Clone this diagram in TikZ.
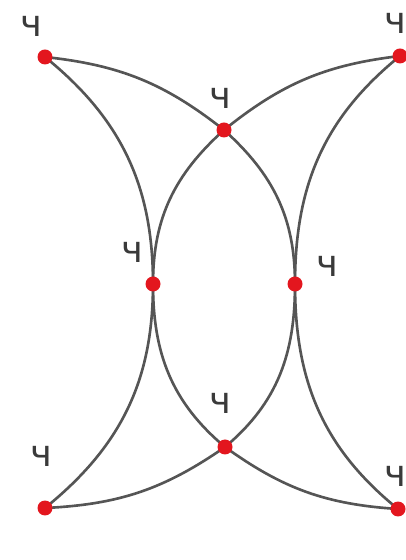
\documentclass[tikz,border=0pt]{standalone}
\usepackage{fontspec}
\setmainfont{DejaVu Sans}
\usetikzlibrary{backgrounds}
\definecolor{dotred}{HTML}{E3161E}
\definecolor{linegray}{HTML}{555555}
\definecolor{labelgray}{HTML}{3A3A3A}
\begin{document}
\begin{tikzpicture}[x=0.02cm,y=0.02cm,
  vtx/.style={circle,fill=dotred,inner sep=0pt,minimum size=0.3cm},
  lbl/.style={text=labelgray,font=\fontsize{21}{21}\selectfont,inner sep=0pt},
  arcline/.style={draw=linegray,line width=1.5pt}]
\useasboundingbox (0,0) rectangle (405,560);
% vertices
\node[vtx] (TL) at (45,503) {};
\node[vtx] (TR) at (400,504) {};
\node[vtx] (TM) at (224,430) {};
\node[vtx] (LM) at (153,276) {};
\node[vtx] (RM) at (295,276) {};
\node[vtx] (BM) at (225,113) {};
\node[vtx] (BL) at (45,52) {};
\node[vtx] (BR) at (398,51) {};
% labels
\node[lbl] (lTL) at (31,534) {ч};
\node[lbl] (lTR) at (395,537) {ч};
\node[lbl] (lTM) at (220,462) {ч};
\node[lbl] (lLM) at (132,308) {ч};
\node[lbl] (lRM) at (327,294) {ч};
\node[lbl] (lBM) at (220,157) {ч};
\node[lbl] (lBL) at (41,104) {ч};
\node[lbl] (lBR) at (395,84) {ч};
% connectors
\begin{scope}[on background layer]
\draw[arcline] (TL.center) to[bend left=16] (TM.center);
\draw[arcline] (TM.center) to[bend left=16] (TR.center);
\draw[arcline] (BL.center) to[bend right=16] (BM.center);
\draw[arcline] (BM.center) to[bend right=16] (BR.center);
\draw[arcline] (TL.center) to[out=-39,in=90] (LM.center) to[out=-90,in=39] (BL.center);
\draw[arcline] (TM.center) to[out=-138,in=90] (LM.center) to[out=-90,in=140] (BM.center);
\draw[arcline] (TR.center) to[out=-141,in=90] (RM.center) to[out=-90,in=141] (BR.center);
\draw[arcline] (TM.center) to[out=-42,in=90] (RM.center) to[out=-90,in=40] (BM.center);
\end{scope}
\end{tikzpicture}
\end{document}
